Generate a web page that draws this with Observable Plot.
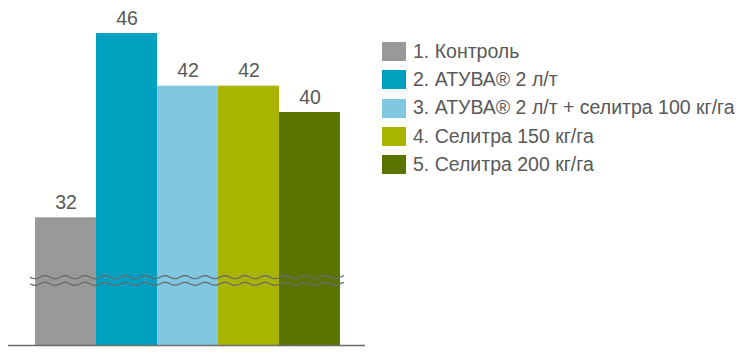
<!DOCTYPE html>
<html>
<head>
<meta charset="utf-8">
<script src="https://cdn.jsdelivr.net/npm/d3@7"></script>
<script src="https://cdn.jsdelivr.net/npm/@observablehq/plot@0.6"></script>
<style>
  body { margin: 0; background: #fff; font-family: "Liberation Sans", Arial, sans-serif; }
  #wrap { position: relative; width: 750px; height: 355px; }
  #legend { position: absolute; left: 382px; top: 37.5px; }
  .row { display: flex; align-items: center; height: 28.3px; }
  .sw { width: 24px; height: 19px; margin-right: 7px; }
  .lab { font-size: 19.5px; color: #595959; white-space: nowrap; line-height: 1; }
</style>
</head>
<body>
<div id="wrap">
  <div id="chart"></div>
  <div id="legend"></div>
</div>
<script>
const categories = ["1. Контроль", "2. АТУВА® 2 л/т", "3. АТУВА® 2 л/т + селитра 100 кг/га", "4. Селитра 150 кг/га", "5. Селитра 200 кг/га"];
const values = [32, 46, 42, 42, 40];
const colors = ["#999999", "#00a0c1", "#80c8df", "#a8b400", "#5b7400"];
const axisStart = 22.3;   // broken axis: visible baseline value
const breakValue = 27.2;  // where the wavy break is drawn

const data = categories.map((c, i) => ({cat: c, value: values[i], color: colors[i]}));

const plot = Plot.plot({
  width: 750,
  height: 355,
  marginLeft: 33,
  marginRight: 409,
  marginTop: 33,
  marginBottom: 10,
  x: {domain: categories, padding: 0, axis: null},
  y: {domain: [axisStart, 46], axis: null},
  style: {fontFamily: "'Liberation Sans', Arial, sans-serif"},
  marks: [
    Plot.barY(data, {x: "cat", y1: axisStart, y2: "value", fill: "color"}),
    Plot.text(data, {x: "cat", y: "value", text: d => String(d.value), dy: -15, fontSize: 19.5, fill: "#595959"}),
    Plot.ruleY([axisStart], {stroke: "#6b6b6b", strokeWidth: 1.3, insetLeft: -25, insetRight: -24})
  ]
});
document.getElementById("chart").appendChild(plot);

// wavy axis-break lines drawn through the plot's scales
const ys = plot.scale("y");
const xs = plot.scale("x");
const x0 = xs.apply(categories[0]) - 5;
const x1 = xs.apply(categories[categories.length - 1]) + xs.bandwidth + 4;
const yb = ys.apply(breakValue);
const svg = d3.select(plot);
[-3.3, 3.3].forEach(off => {
  const pts = d3.range(x0, x1 + 0.5, 1).map(x => [x, yb + off + 1.5 * Math.sin((x - x0) / 20 * 2 * Math.PI)]);
  svg.append("path").attr("d", d3.line()(pts)).attr("fill", "none").attr("stroke", "#6b6b6b").attr("stroke-width", 1.3);
});

const legend = d3.select("#legend");
data.forEach(d => {
  const r = legend.append("div").attr("class", "row");
  r.append("div").attr("class", "sw").style("background", d.color);
  r.append("div").attr("class", "lab").text(d.cat);
});
</script>
</body>
</html>
